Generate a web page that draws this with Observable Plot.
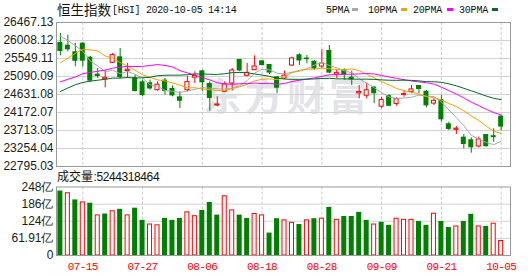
<!DOCTYPE html>
<html><head><meta charset="utf-8">
<script src="https://cdn.jsdelivr.net/npm/d3@7"></script>
<script src="https://cdn.jsdelivr.net/npm/@observablehq/plot@0.6"></script>
<style>
html,body{margin:0;padding:0;background:#fff;}
#wrap{position:relative;width:531px;height:276px;overflow:hidden;}
#wrap > svg{position:absolute;left:0;}
[aria-label^="x-axis"] text{fill:#ff0000;font-family:"Liberation Mono","DejaVu Sans Mono",monospace;font-size:11px;letter-spacing:-0.6px;}
</style></head><body><div id="wrap"></div>
<script>
// ---- data ----
const dates = ["07-10","07-13","07-14","07-15","07-16","07-17","07-20","07-21","07-22","07-23","07-24","07-27","07-28","07-29","07-30","07-31",
"08-03","08-04","08-05","08-06","08-07","08-10","08-11","08-12","08-13","08-14","08-17","08-18","08-19","08-20","08-21","08-24","08-25","08-26","08-27","08-28","08-31",
"09-01","09-02","09-03","09-04","09-07","09-08","09-09","09-10","09-11","09-14","09-15","09-16","09-17","09-18","09-21","09-22","09-23","09-24","09-25","09-28","09-29","09-30","10-05"];
const open  = [25957,25888,25720,25939,25582,25150,25020,25440,25592,25230,25057,24955,24930,24741,24996,24784,24572,24741,25060,25235,24912,24350,24700,24912,25524,25108,25251,25490,25396,25082,25040,25370,25643,25560,25480,25345,25753,25141,25261,25072,24660,24600,24820,24320,24600,24390,24620,24690,24860,24715,24400,24500,23884,23730,23543,23476,23305,23611,23580,24080];
const high  = [26187,26143,25932,25950,25600,25294,25243,25677,25804,25420,25123,24996,24996,24955,25039,24852,24700,25097,25210,25251,24955,24572,24955,25294,25524,25421,25618,25490,25396,25082,25227,25584,25669,25625,25498,25771,25880,25261,25286,25225,24860,24919,24830,24563,24630,24547,24733,24860,24860,24733,24521,24606,23925,23815,23611,23527,23543,23611,23756,24100];
const low   = [25618,25720,25338,25327,24945,25039,24802,25420,25039,25040,24700,24572,24741,24716,24613,24572,24274,24700,24911,24700,24206,24317,24690,24716,25210,25082,25240,25363,25141,24657,25020,25345,25370,25414,25243,25286,25159,25031,24988,24860,24521,24521,24394,24266,24320,24333,24562,24650,24650,24292,24351,23925,23713,23611,23246,23135,23272,23288,23414,23700];
const close = [25727,25772,25477,25481,24971,25089,25057,25635,25058,25263,24705,24603,24772,24883,24710,24595,24458,24947,25102,24930,24531,24377,24890,25244,25230,25183,25347,25367,25178,24791,25113,25551,25486,25520,25281,25422,25177,25184,25120,25007,24695,24740,24650,24490,24330,24510,24640,24760,24760,24341,24470,23985,23740,23760,23356,23272,23484,23300,23530,23800];
const ma5  = [26122,26009,25878,25733,25486,25358,25215,25247,25162,25220,25144,25053,24880,24845,24735,24713,24684,24719,24762,24806,24794,24777,24766,24794,24854,24985,25179,25274,25261,25173,25159,25200,25224,25286,25384,25446,25371,25311,25237,25182,25037,24919,24807,24677,24569,24531,24541,24562,24614,24588,24579,24441,24237,24041,23835,23591,23496,23408,23351,23442];
const ma10 = [25438,25561,25678,25784,25768,25740,25612,25562,25448,25353,25251,25134,25063,25004,24978,24928,24868,24799,24804,24771,24753,24731,24742,24778,24830,24889,24978,25020,25028,25014,25072,25189,25249,25274,25279,25303,25286,25267,25262,25283,25241,25145,25059,24957,24876,24784,24730,24685,24645,24579,24555,24491,24400,24327,24212,24085,23968,23823,23696,23639];
const ma20 = [24954,25018,25077,25162,25194,25224,25254,25303,25331,25348,25345,25347,25371,25394,25373,25334,25240,25181,25126,25062,25002,24932,24903,24891,24904,24909,24923,24910,24916,24892,24913,24960,24996,25026,25055,25096,25132,25144,25145,25149,25157,25167,25154,25115,25077,25043,25008,24976,24953,24931,24898,24818,24729,24642,24544,24434,24349,24254,24171,24109];
const ma30 = [24708,24796,24880,24938,24971,24996,25019,25048,25048,25064,25053,25057,25073,25109,25122,25125,25125,25135,25155,25156,25147,25142,25161,25189,25192,25186,25153,25127,25093,25046,25025,25018,25018,25019,25029,25040,25044,25029,25031,25023,25022,25022,25017,25003,24995,24992,24998,24991,24978,24959,24956,24942,24903,24853,24789,24724,24661,24592,24534,24500];
const volume = [233,225,201,192,189,145,150,160,167,145,171,127,112,109,134,127,134,156,142,163,192,146,214,163,146,134,150,145,81,133,127,118,112,127,133,133,174,129,141,141,156,127,112,120,109,133,129,129,123,109,151,123,101,105,123,149,105,105,115,52.44];
const volUp = [0,1,0,1,0,1,0,1,0,1,0,0,1,1,0,0,0,1,1,0,0,0,1,1,0,0,1,1,0,0,1,1,0,1,0,1,0,1,0,0,0,0,1,0,0,1,1,1,0,0,1,0,0,1,0,0,1,0,1,1];
const priceTicks = [22795.03,23254.04,23713.05,24172.07,24631.08,25090.09,25549.11,26008.12,26467.13];
const volTicks = [0,61.91,123.82,185.73,247.64];
const volTickLabels = ["0","61.91亿","124亿","186亿","248亿"];
const xTickLabels = ["07-15","07-27","08-06","08-18","08-28","09-09","09-21","10-05"];
const maNames = ["5PMA","10PMA","20PMA","30PMA"];
const maColors = ["#a8a8a8","#f5a200","#ff00ff","#006a2a"];
const lastVolume = "5244318464";

// ---- build ----
const RED = "#ff0000", GREEN = "#008000";
const idx = d3.range(dates.length);
const tickIdx = xTickLabels.map(l => dates.indexOf(l));
const candles = idx.map(i => ({i, o: open[i], h: high[i], l: low[i], c: close[i], up: close[i] >= open[i]}));
const xDomain = [-0.52, 60.25];
const baseStyle = {background: "transparent", fontFamily: "'Liberation Sans', Arial, sans-serif", fontSize: "12px", color: "#1a1a1a", overflow: "visible"};
const mas = [ma5, ma10, ma20, ma30];

const main = Plot.plot({
  width: 531, height: 170, marginLeft: 56, marginRight: 21, marginTop: 22, marginBottom: 4,
  style: baseStyle,
  x: {domain: xDomain, axis: null},
  y: {domain: [priceTicks[0], priceTicks[priceTicks.length - 1]], ticks: priceTicks, tickFormat: d => d.toFixed(2), tickSize: 0, tickPadding: 3, label: null},
  marks: [
    Plot.ruleY(priceTicks.slice(1, -1), {stroke: "#d2d2d2"}),
    Plot.ruleX(tickIdx, {stroke: "#cccccc", strokeDasharray: "3,2"}),
    Plot.ruleX(candles, {x: "i", y1: "l", y2: "h", stroke: d => d.up ? RED : GREEN}),
    Plot.rect(candles.filter(d => !d.up), {x1: d => d.i - 0.335, x2: d => d.i + 0.335, y1: "o", y2: "c", fill: GREEN}),
    Plot.rect(candles.filter(d => d.up), {x1: d => d.i - 0.27, x2: d => d.i + 0.27, y1: "o", y2: "c", fill: "#fff", stroke: RED, strokeWidth: 1}),
    ...mas.map((m, k) => Plot.line(idx, {x: i => i, y: i => m[i], stroke: maColors[k], strokeWidth: 1})),
    Plot.frame({stroke: "#9a9a9a"})
  ]
});

const vol = Plot.plot({
  width: 531, height: 106, marginLeft: 56, marginRight: 21, marginTop: 16.5, marginBottom: 21,
  style: baseStyle,
  x: {domain: xDomain, ticks: tickIdx, tickFormat: i => dates[i], tickSize: 0, tickPadding: 7, label: null},
  y: {domain: [0, volTicks[volTicks.length - 1]], ticks: volTicks, tickFormat: d => volTickLabels[volTicks.indexOf(d)], tickSize: 0, tickPadding: 3, label: null},
  marks: [
    Plot.ruleY(volTicks.slice(1, -1), {stroke: "#d2d2d2"}),
    Plot.ruleX(tickIdx, {stroke: "#cccccc", strokeDasharray: "3,2"}),
    Plot.rect(idx.filter(i => !volUp[i]), {x1: i => i - 0.335, x2: i => i + 0.335, y1: 0, y2: i => volume[i], fill: GREEN}),
    Plot.rect(idx.filter(i => volUp[i]), {x1: i => i - 0.27, x2: i => i + 0.27, y1: 0, y2: i => volume[i], fill: "#fff", stroke: RED, strokeWidth: 1}),
    Plot.frame({stroke: "#9a9a9a"})
  ]
});

const wrap = document.getElementById("wrap");
const NS = "http://www.w3.org/2000/svg";
function svgLayer(){ const s = document.createElementNS(NS, "svg"); s.setAttribute("width", 531); s.setAttribute("height", 276); s.style.top = "0px"; return s; }
function txt(parent, str, x, y, font, fill, extra){
  const t = document.createElementNS(NS, "text");
  t.setAttribute("x", x); t.setAttribute("y", y);
  t.setAttribute("style", "font:" + font + ";fill:" + fill + ";" + (extra || ""));
  t.textContent = str; parent.appendChild(t); return t;
}
// watermark underlay
const under = svgLayer();
txt(under, "东方财富", 203, 110, "bold 38px 'Noto Sans CJK SC'", "#e3e3e8", "letter-spacing:4px");
wrap.appendChild(under);
main.style.top = "0px"; wrap.appendChild(main);
vol.style.top = "170px"; wrap.appendChild(vol);
// overlay texts
const over = svgLayer();
txt(over, "恒生指数", 57, 15, "13.5px 'Noto Sans CJK SC'", "#111");
txt(over, "[HSI] 2020-10-05 14:14", 112, 12.7, "10px 'Liberation Mono', monospace", "#111", "letter-spacing:-0.35px");
const legX = [326, 368, 413, 459], markX = [352, 401, 447, 492];
maNames.forEach((n, k) => {
  txt(over, n, legX[k], 12.7, "10px 'Liberation Mono', monospace", "#111", "letter-spacing:-0.2px");
  const r = document.createElementNS(NS, "rect");
  r.setAttribute("x", markX[k]); r.setAttribute("y", 8); r.setAttribute("width", 6); r.setAttribute("height", 3);
  r.setAttribute("fill", maColors[k]); over.appendChild(r);
});
txt(over, "成交量", 57, 180.5, "12px 'Noto Sans CJK SC'", "#111");
txt(over, ":" + lastVolume, 93.5, 180.7, "12px 'Liberation Sans', Arial, sans-serif", "#111", "letter-spacing:-0.4px");
wrap.appendChild(over);
</script></body></html>
